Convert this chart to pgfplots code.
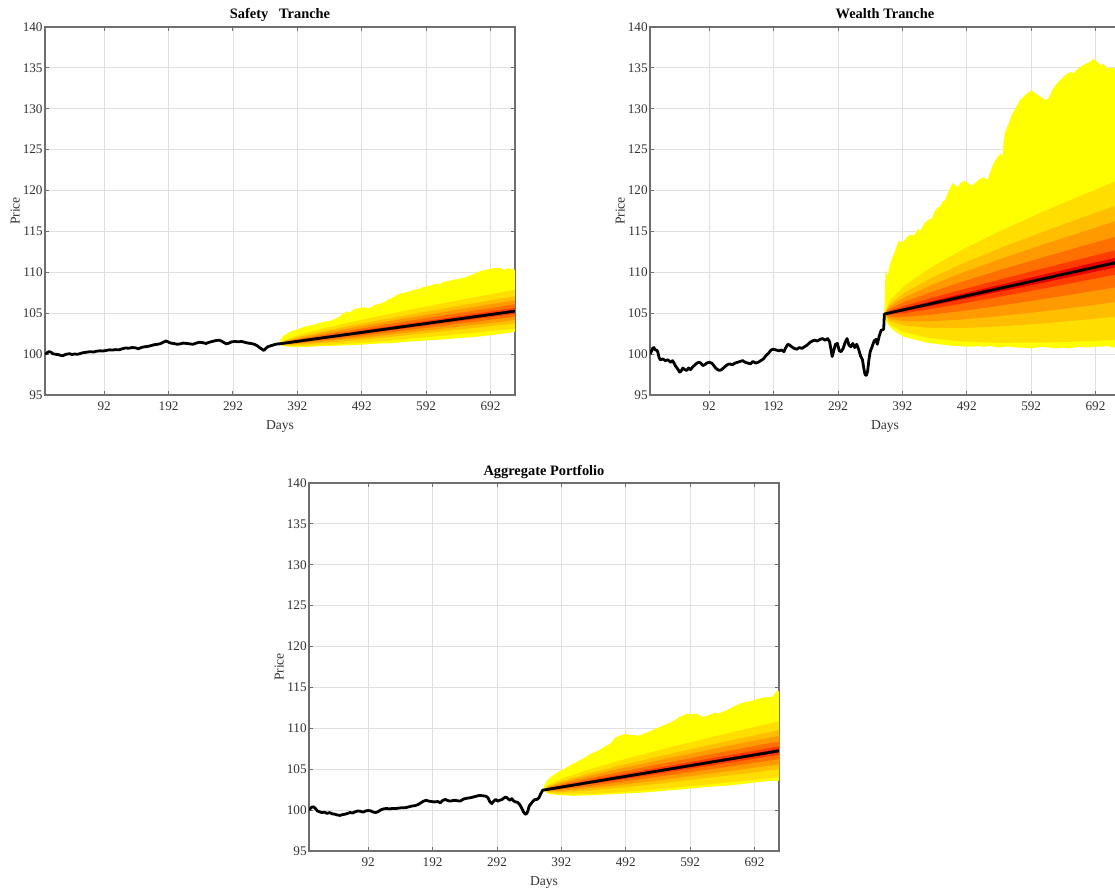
\documentclass[border=0pt]{standalone}
\usepackage{fontspec}
\setmainfont{Liberation Serif}
\usepackage{pgfplots}
\pgfplotsset{compat=1.18}

\definecolor{fan0}{RGB}{255,255,0}
\definecolor{fan1}{RGB}{255,222,0}
\definecolor{fan2}{RGB}{255,190,0}
\definecolor{fan3}{RGB}{255,155,0}
\definecolor{fan4}{RGB}{255,112,0}
\definecolor{fan5}{RGB}{255,60,0}
\definecolor{fan6}{RGB}{230,0,0}
\definecolor{axgray}{RGB}{110,110,110}
\definecolor{txtgray}{RGB}{50,50,50}

\pgfplotsset{
  fanaxis/.style={
    scale only axis, width=235pt, height=184pt,
    anchor=south west,
    xmin=0, xmax=730, ymin=95, ymax=140,
    xtick={92,192,292,392,492,592,692},
    ytick={95,100,...,140},
    grid=major,
    grid style={black!12, line width=0.4pt},
    tick align=inside,
    major tick length=2.2pt,
    axis line style={axgray, line width=0.6pt},
    tick style={axgray, line width=0.5pt},
    ticklabel style={font=\fontsize{6.6}{8}\selectfont, text=txtgray},
    yticklabel style={inner xsep=1pt},
    /pgf/number format/assume math mode=true,
    xlabel={Days}, ylabel={Price},
    label style={font=\fontsize{6.8}{8}\selectfont, text=txtgray},
    xlabel style={yshift=2pt},
    ylabel shift=-3pt,
    title style={at={(0.5,1)}, anchor=base, yshift=-2pt,
      font=\fontsize{7.2}{8.5}\selectfont\bfseries},
  },
  fan/.style={draw=none, fill=#1, forget plot},
  pathline/.style={black, line width=1.4pt, line join=round},
}

\begin{document}
\begin{tikzpicture}
\useasboundingbox (0,0) rectangle (557.5pt,444pt);

% ---------------- Safety tranche ----------------
\begin{axis}[fanaxis, at={(22.5pt,246.5pt)}, title={Safety\ \ \ Tranche}]
\addplot[fan=fan0] coordinates {
(364,101.25)(366,101.8)(370,102.2)(375,102.45)(380,102.7)(386,102.9)(391,103.0)(398,103.2)(405,103.4)(412,103.5)(418,103.6)(425,103.8)(432,103.9)(438,104.0)(444,104.1)(450,104.3)(456,104.5)(462,104.9)(468,105.2)(474,105.1)(480,105.5)(486,105.6)(492,105.7)(498,105.7)(504,105.6)(510,105.9)(516,106.1)(522,106.2)(528,106.4)(534,106.7)(540,106.9)(546,107.2)(552,107.4)(558,107.5)(564,107.6)(570,107.8)(576,107.9)(582,108.0)(588,108.2)(594,108.3)(600,108.4)(606,108.6)(612,108.5)(618,108.8)(624,108.9)(630,109.0)(636,109.1)(642,109.2)(648,109.3)(654,109.4)(660,109.6)(666,109.8)(672,110.0)(678,110.2)(684,110.3)(690,110.4)(696,110.5)(702,110.5)(708,110.5)(714,110.3)(720,110.5)(726,110.4)(730,110.3)
(730,102.75)(720,102.6)(700,102.4)(680,102.2)(660,102.05)(640,101.95)(620,101.8)(600,101.7)(580,101.6)(560,101.5)(540,101.35)(520,101.3)(500,101.2)(480,101.1)(460,101.05)(440,101.0)(420,100.95)(410,100.9)(400,100.87)(390,100.85)(380,100.9)(374,100.95)(368,101.05)
};
\addplot[fan=fan1] coordinates {(364,101.25)(372,101.73)(394,102.33)(434,103.17)(484,104.06)(544,105.06)(614,106.15)(674,107.05)(730,107.88)(730,103.11)(674,102.68)(614,102.22)(544,101.72)(484,101.34)(434,101.09)(394,100.97)(372,101.03)};
\addplot[fan=fan2] coordinates {(364,101.25)(372,101.61)(394,102.11)(434,102.82)(484,103.61)(544,104.51)(614,105.50)(674,106.33)(730,107.09)(730,103.75)(674,103.26)(614,102.74)(544,102.17)(484,101.70)(434,101.37)(394,101.15)(372,101.12)};
\addplot[fan=fan3] coordinates {(364,101.25)(372,101.54)(394,101.96)(434,102.60)(484,103.33)(544,104.16)(614,105.08)(674,105.87)(730,106.59)(730,104.16)(674,103.64)(614,103.08)(544,102.46)(484,101.94)(434,101.55)(394,101.27)(372,101.18)};
\addplot[fan=fan4] coordinates {(364,101.25)(372,101.46)(394,101.82)(434,102.39)(484,103.04)(544,103.81)(614,104.67)(674,105.41)(730,106.09)(730,104.57)(674,104.02)(614,103.42)(544,102.75)(484,102.17)(434,101.72)(394,101.39)(372,101.24)};
\addplot[fan=fan5] coordinates {(364,101.25)(372,101.40)(394,101.69)(434,102.19)(484,102.79)(544,103.50)(614,104.31)(674,105.01)(730,105.65)(730,104.92)(674,104.34)(614,103.71)(544,102.99)(484,102.37)(434,101.88)(394,101.49)(372,101.29)};
\addplot[fan=fan6] coordinates {(364,101.25)(372,101.36)(394,101.63)(434,102.09)(484,102.65)(544,103.33)(614,104.11)(674,104.79)(730,105.41)(730,105.12)(674,104.52)(614,103.87)(544,103.13)(484,102.49)(434,101.96)(394,101.54)(372,101.32)};
\addplot[pathline] coordinates {
(0,100.00)(3,100.15)(6,100.30)(9,100.25)(12,100.05)(16,99.98)(20,99.95)(24,99.85)(27,99.78)(30,99.90)(34,100.00)(38,100.05)(42,99.95)(46,100.02)(50,99.97)(54,100.05)(58,100.15)(62,100.20)(66,100.25)(70,100.30)(75,100.25)(80,100.35)(85,100.40)(90,100.38)(95,100.45)(100,100.52)(105,100.50)(110,100.55)(115,100.52)(120,100.65)(125,100.75)(130,100.72)(135,100.80)(140,100.78)(145,100.65)(150,100.82)(155,100.90)(160,100.95)(165,101.05)(170,101.15)(175,101.20)(180,101.30)(185,101.50)(188,101.60)(191,101.50)(195,101.35)(200,101.30)(205,101.20)(210,101.25)(215,101.35)(220,101.30)(225,101.25)(230,101.20)(235,101.35)(240,101.45)(245,101.40)(250,101.30)(255,101.45)(260,101.55)(265,101.65)(270,101.70)(274,101.60)(278,101.40)(282,101.25)(286,101.35)(290,101.50)(295,101.55)(300,101.50)(305,101.55)(310,101.45)(315,101.35)(320,101.30)(325,101.20)(330,101.00)(334,100.75)(338,100.55)(340,100.45)(343,100.70)(346,100.90)(350,101.00)(354,101.10)(358,101.20)(362,101.25)
(364,101.25)(372,101.34)(394,101.58)(434,102.02)(484,102.56)(544,103.22)(614,103.98)(674,104.64)(730,105.25)
};
\end{axis}

% ---------------- Wealth tranche ----------------
\begin{axis}[fanaxis, at={(325pt,246.5pt)}, title={Wealth Tranche}]
\addplot[fan=fan0] coordinates {
(364,104.9)(365,108.0)(366,110.3)(369,109.5)(372,110.8)(376,111.7)(380,112.5)(384,113.4)(387,113.9)(392,113.6)(398,114.2)(404,114.6)(410,114.5)(416,115.3)(420,115.1)(426,116.0)(432,116.4)(438,116.6)(442,117.4)(446,117.9)(450,118.0)(454,118.6)(458,118.8)(462,119.6)(466,120.3)(470,120.9)(474,120.7)(478,120.4)(482,120.9)(488,121.2)(494,120.9)(500,120.6)(506,121.0)(512,121.4)(518,121.6)(524,121.3)(530,122.6)(534,123.4)(538,123.9)(542,124.3)(546,124.5)(548,124.2)(549,125.9)(551,127.0)(554,127.6)(558,128.4)(562,129.3)(566,129.8)(570,130.4)(574,131.0)(578,131.3)(582,131.6)(586,131.9)(590,132.1)(594,132.2)(598,131.9)(602,131.7)(606,131.5)(610,131.3)(614,131.1)(618,131.2)(622,131.8)(626,132.4)(630,132.9)(636,133.4)(642,133.9)(648,134.3)(654,134.5)(658,134.3)(662,134.7)(668,135.1)(674,135.4)(680,135.6)(684,135.8)(688,136.1)(692,135.9)(696,135.6)(700,135.3)(704,135.5)(708,135.1)(712,134.9)(716,135.1)(720,134.9)(724,135.2)(730,135.0)
(730,101.0)(720,100.8)(710,101.0)(700,100.9)(690,100.9)(680,100.8)(670,100.9)(660,100.8)(650,100.7)(640,100.8)(630,100.7)(620,100.8)(610,100.9)(600,100.8)(590,100.7)(580,100.8)(570,100.8)(560,100.9)(550,100.9)(540,100.8)(530,101.0)(520,100.9)(510,101.0)(500,100.9)(490,100.9)(480,101.0)(470,101.0)(460,101.1)(450,101.2)(440,101.3)(430,101.4)(420,101.6)(410,101.8)(400,102.0)(392,102.2)(386,102.5)(380,102.8)(376,103.1)(372,103.4)(368,103.8)(366,104.2)
};
\addplot[fan=fan1] coordinates {(364,104.90)(372,106.51)(394,108.29)(434,110.49)(484,112.73)(544,115.06)(614,117.54)(674,119.53)(730,121.33)(730,101.76)(674,101.56)(614,101.41)(544,101.38)(484,101.55)(434,101.96)(394,102.69)(372,103.64)};
\addplot[fan=fan2] coordinates {(364,104.90)(372,106.07)(394,107.43)(434,109.18)(484,111.01)(544,112.96)(614,115.05)(674,116.76)(730,118.32)(730,104.63)(674,104.20)(614,103.77)(544,103.39)(484,103.19)(434,103.21)(394,103.51)(372,104.06)};
\addplot[fan=fan3] coordinates {(364,104.90)(372,105.79)(394,106.88)(434,108.35)(484,109.92)(544,111.63)(614,113.49)(674,115.02)(730,116.42)(730,106.43)(674,105.85)(614,105.26)(544,104.65)(484,104.22)(434,104.00)(394,104.03)(372,104.32)};
\addplot[fan=fan4] coordinates {(364,104.90)(372,105.51)(394,106.34)(434,107.52)(484,108.83)(544,110.29)(614,111.91)(674,113.26)(730,114.50)(730,108.26)(674,107.53)(614,106.77)(544,105.93)(484,105.26)(434,104.80)(394,104.55)(372,104.59)};
\addplot[fan=fan5] coordinates {(364,104.90)(372,105.27)(394,105.86)(434,106.79)(484,107.88)(544,109.13)(614,110.54)(674,111.73)(730,112.84)(730,109.83)(674,108.97)(614,108.06)(544,107.02)(484,106.16)(434,105.48)(394,105.00)(372,104.82)};
\addplot[fan=fan6] coordinates {(364,104.90)(372,105.13)(394,105.59)(434,106.39)(484,107.35)(544,108.48)(614,109.77)(674,110.88)(730,111.91)(730,110.72)(674,109.79)(614,108.79)(544,107.65)(484,106.67)(434,105.87)(394,105.25)(372,104.96)};
\addplot[pathline] coordinates {
(0,100.0)(2,100.3)(4,100.7)(6,100.8)(8,100.5)(10,100.5)(12,100.3)(14,99.6)(16,99.3)(20,99.4)(24,99.2)(28,99.3)(32,99.0)(35,99.2)(38,98.8)(40,98.5)(43,98.2)(46,97.8)(48,97.9)(51,98.3)(54,98.1)(57,98.0)(60,98.3)(63,98.1)(66,98.4)(70,98.7)(73,98.9)(76,99.0)(79,98.9)(82,98.6)(85,98.7)(88,98.9)(92,99.0)(96,98.9)(99,98.6)(102,98.3)(105,98.1)(108,98.0)(111,98.1)(114,98.3)(117,98.5)(120,98.7)(124,98.8)(128,98.7)(132,98.9)(136,99.0)(140,99.1)(144,99.2)(148,99.0)(152,98.9)(156,98.8)(160,99.1)(164,98.9)(168,99.0)(172,99.2)(176,99.4)(180,99.8)(184,100.1)(188,100.5)(192,100.6)(196,100.5)(200,100.4)(204,100.5)(208,100.3)(211,100.8)(214,101.2)(217,101.1)(220,100.9)(224,100.7)(228,100.6)(232,100.8)(236,100.7)(240,100.9)(244,101.1)(248,101.4)(252,101.6)(256,101.7)(260,101.6)(264,101.8)(268,101.9)(272,101.7)(276,101.9)(279,101.5)(281,100.6)(283,99.7)(285,100.3)(288,101.2)(291,101.3)(294,100.4)(297,100.3)(300,100.7)(303,101.4)(306,101.9)(309,101.1)(312,100.9)(315,101.3)(318,100.8)(321,101.2)(324,100.6)(327,99.8)(330,99.3)(332,98.3)(334,97.5)(336,97.4)(338,97.9)(340,99.3)(342,100.3)(345,100.9)(348,101.6)(351,101.8)(353,101.2)(356,102.2)(359,102.9)(362,103.0)(363,103.1)
(364,104.90)(372,105.04)(394,105.42)(434,106.12)(484,107.00)(544,108.05)(614,109.27)(674,110.32)(730,111.30)
};
\end{axis}

% ---------------- Aggregate portfolio ----------------
\begin{axis}[fanaxis, at={(154.5pt,18.5pt)}, title={Aggregate Portfolio}]
\addplot[fan=fan0] coordinates {
(364,102.45)(365,102.9)(368,103.4)(372,103.8)(378,104.2)(384,104.5)(390,104.8)(396,105.0)(402,105.3)(408,105.6)(414,105.8)(420,106.1)(426,106.3)(432,106.6)(438,106.9)(444,107.1)(450,107.3)(456,107.6)(462,107.9)(468,108.1)(472,108.5)(476,108.9)(480,109.0)(486,109.2)(492,109.3)(498,109.2)(504,109.2)(510,109.1)(516,109.2)(522,109.4)(528,109.6)(534,109.8)(540,110.0)(546,110.2)(552,110.4)(558,110.6)(564,110.8)(570,111.1)(576,111.4)(582,111.6)(588,111.8)(594,111.7)(600,111.8)(606,111.6)(612,111.4)(618,111.5)(624,111.7)(630,111.9)(636,111.8)(642,112.0)(648,112.2)(654,112.4)(660,112.7)(666,112.9)(672,113.1)(678,113.2)(684,113.3)(690,113.4)(696,113.6)(702,113.7)(708,113.8)(714,113.8)(720,113.9)(724,114.3)(728,114.6)(730,114.5)
(730,103.6)(715,103.55)(700,103.45)(674,103.2)(650,103.0)(614,102.8)(580,102.55)(544,102.3)(510,102.1)(484,102.0)(460,101.9)(434,101.8)(410,101.75)(394,101.8)(380,101.9)(372,102.0)(368,102.2)
};
\addplot[fan=fan1] coordinates {(364,102.45)(372,103.08)(394,103.88)(434,104.95)(484,106.09)(544,107.34)(614,108.71)(674,109.83)(730,110.87)(730,104.04)(674,103.56)(614,103.09)(544,102.57)(484,102.19)(434,101.97)(394,101.92)(372,102.08)};
\addplot[fan=fan2] coordinates {(364,102.45)(372,102.92)(394,103.56)(434,104.47)(484,105.47)(544,106.58)(614,107.82)(674,108.83)(730,109.78)(730,105.01)(674,104.45)(614,103.88)(544,103.24)(484,102.74)(434,102.39)(394,102.20)(372,102.22)};
\addplot[fan=fan3] coordinates {(364,102.45)(372,102.82)(394,103.37)(434,104.18)(484,105.08)(544,106.10)(614,107.25)(674,108.21)(730,109.10)(730,105.61)(674,105.00)(614,104.38)(544,103.66)(484,103.08)(434,102.66)(394,102.37)(372,102.31)};
\addplot[fan=fan4] coordinates {(364,102.45)(372,102.72)(394,103.17)(434,103.87)(484,104.68)(544,105.61)(614,106.68)(674,107.57)(730,108.40)(730,106.23)(674,105.57)(614,104.89)(544,104.10)(484,103.44)(434,102.93)(394,102.55)(372,102.40)};
\addplot[fan=fan5] coordinates {(364,102.45)(372,102.63)(394,103.00)(434,103.61)(484,104.34)(544,105.20)(614,106.19)(674,107.02)(730,107.81)(730,106.76)(674,106.06)(614,105.33)(544,104.47)(484,103.74)(434,103.16)(394,102.70)(372,102.48)};
\addplot[fan=fan6] coordinates {(364,102.45)(372,102.58)(394,102.90)(434,103.47)(484,104.15)(544,104.96)(614,105.91)(674,106.71)(730,107.47)(730,107.06)(674,106.33)(614,105.57)(544,104.67)(484,103.91)(434,103.29)(394,102.78)(372,102.52)};
\addplot[pathline] coordinates {
(0,100.0)(2,100.2)(4,100.35)(7,100.4)(10,100.2)(13,99.9)(16,99.8)(20,99.7)(24,99.75)(28,99.6)(32,99.7)(36,99.55)(40,99.5)(44,99.4)(48,99.35)(52,99.45)(56,99.5)(60,99.6)(64,99.7)(68,99.65)(72,99.8)(76,99.9)(80,99.85)(84,99.75)(88,99.9)(92,99.95)(96,99.9)(100,99.75)(104,99.7)(108,99.85)(112,100.05)(116,100.15)(120,100.2)(125,100.15)(130,100.2)(135,100.2)(140,100.25)(145,100.3)(150,100.3)(155,100.4)(160,100.5)(165,100.55)(170,100.7)(174,100.9)(178,101.1)(182,101.2)(186,101.1)(190,101.05)(195,101.0)(200,101.05)(204,100.9)(208,101.2)(212,101.3)(216,101.15)(220,101.1)(225,101.2)(230,101.15)(235,101.1)(240,101.35)(245,101.45)(250,101.5)(255,101.6)(260,101.7)(265,101.8)(270,101.75)(275,101.7)(278,101.5)(281,101.0)(284,100.8)(287,101.1)(290,101.3)(293,101.1)(296,101.2)(300,101.3)(303,101.5)(306,101.6)(309,101.4)(312,101.2)(315,101.4)(318,101.1)(321,101.0)(324,100.95)(327,100.7)(330,100.3)(333,99.8)(336,99.5)(338,99.55)(340,99.9)(342,100.5)(345,100.8)(348,101.1)(351,101.3)(354,101.3)(357,101.5)(360,102.0)(363,102.45)
(364,102.45)(372,102.55)(394,102.84)(434,103.37)(484,104.02)(544,104.81)(614,105.73)(674,106.51)(730,107.25)
};
\end{axis}
\end{tikzpicture}
\end{document}
